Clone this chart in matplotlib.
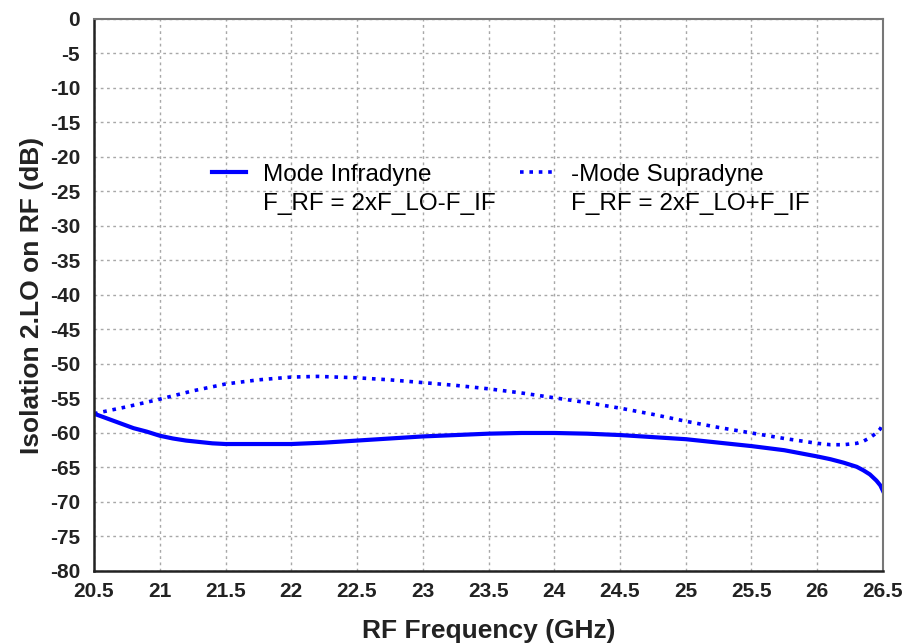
import matplotlib.pyplot as plt
from matplotlib.lines import Line2D

plt.rcParams['font.family'] = ['Liberation Sans', 'DejaVu Sans']
plt.rcParams['axes.unicode_minus'] = False

# Frecuencia RF (GHz) y aislamiento 2.LO sobre RF (dB)
freq_inf = [20.5, 20.6, 20.7, 20.8, 20.9, 21.0, 21.1, 21.2, 21.3, 21.4, 21.5, 21.75,
            22.0, 22.25, 22.5, 22.75, 23.0, 23.25, 23.5, 23.75, 24.0, 24.25, 24.5,
            24.75, 25.0, 25.25, 25.5, 25.75, 26.0, 26.1, 26.2, 26.3, 26.35, 26.4,
            26.45, 26.48, 26.5]
iso_inf = [-57.2, -57.9, -58.6, -59.3, -59.8, -60.4, -60.8, -61.1, -61.3, -61.5, -61.6, -61.6,
           -61.6, -61.4, -61.1, -60.8, -60.5, -60.3, -60.1, -60.0, -60.0, -60.1, -60.3,
           -60.6, -60.9, -61.4, -61.9, -62.5, -63.4, -63.8, -64.3, -64.9, -65.4, -66.0,
           -66.9, -67.6, -68.4]

freq_sup = [20.5, 20.75, 21.0, 21.25, 21.5, 21.75, 22.0, 22.2, 22.5, 22.75, 23.0, 23.25,
            23.5, 23.75, 24.0, 24.25, 24.5, 24.75, 25.0, 25.25, 25.5, 25.75, 26.0, 26.1,
            26.2, 26.3, 26.35, 26.4, 26.45, 26.48, 26.5]
iso_sup = [-57.2, -56.2, -55.1, -53.9, -52.9, -52.3, -51.9, -51.8, -52.0, -52.3, -52.7, -53.1,
           -53.6, -54.2, -54.9, -55.6, -56.4, -57.3, -58.3, -59.2, -60.0, -60.8, -61.5, -61.7,
           -61.7, -61.5, -61.2, -60.7, -60.0, -59.4, -58.6]

fig = plt.figure(figsize=(9.06, 6.43), dpi=100)
ax = fig.add_axes([0.1038, 0.112, 0.8708, 0.8585])

ax.plot(freq_inf, iso_inf, color='#0000ff', lw=3)
ax.plot(freq_sup, iso_sup, color='#0000ff', lw=2.6, linestyle=(0, (1, 1.6)))

ax.set_xlim(20.5, 26.5)
ax.set_ylim(-80, 0)
ax.set_xticks([20.5 + 0.5 * i for i in range(13)])
ax.set_xticklabels(['20.5', '21', '21.5', '22', '22.5', '23', '23.5', '24',
                    '24.5', '25', '25.5', '26', '26.5'])
ax.set_yticks(range(-80, 1, 5))
ax.tick_params(length=0, labelsize=15)
ax.tick_params(axis='y', pad=10)
ax.tick_params(axis='x', pad=8)
for lbl in ax.get_xticklabels() + ax.get_yticklabels():
    lbl.set_fontweight('bold')
    lbl.set_color('#222222')

ax.grid(True, color='#a8a8a8', lw=1, linestyle=(0, (2, 2.5)))
ax.set_axisbelow(True)

for s in ['left', 'bottom']:
    ax.spines[s].set_color('#222222')
    ax.spines[s].set_linewidth(1.8)
for s in ['top', 'right']:
    ax.spines[s].set_color('#777777')
    ax.spines[s].set_linewidth(1.5)

ax.set_xlabel('RF Frequency (GHz)', fontsize=19, fontweight='bold', labelpad=13,
              color='#222222')
ax.set_ylabel('Isolation 2.LO on RF (dB)', fontsize=19, fontweight='bold', labelpad=4,
              color='#222222')

# leyenda en dos columnas, segunda linea sin marcador
blank = Line2D([], [], color='none')
handles = [Line2D([], [], color='#0000ff', lw=3), blank,
           Line2D([], [], color='#0000ff', lw=2.6, linestyle=(0, (1, 1.6))), blank]
labels = ['Mode Infradyne', 'F_RF = 2xF_LO-F_IF',
          '-Mode Supradyne', 'F_RF = 2xF_LO+F_IF']
ax.legend(handles, labels, ncol=2, frameon=False, fontsize=17.5,
          loc='upper left', bbox_to_anchor=(0.134, 0.76), borderpad=0,
          handlelength=1.4, handletextpad=0.7, columnspacing=1.0,
          labelspacing=0.32)

fig.savefig('out.png', dpi=100)
